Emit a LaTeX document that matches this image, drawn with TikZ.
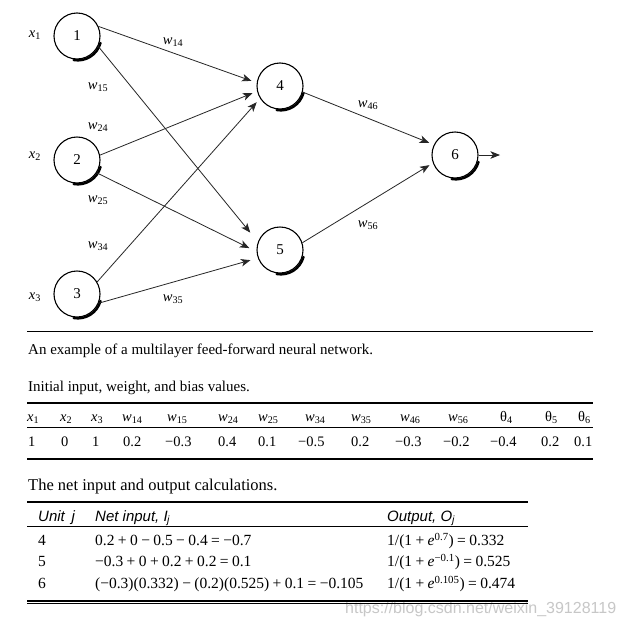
\documentclass[tikz,border=0pt]{standalone}
\usepackage{fontspec}
\setmainfont{Liberation Serif}
\newfontfamily\hsans{Liberation Sans}
\usetikzlibrary{arrows.meta,calc}
\newcommand{\fsz}[1]{\fontsize{#1}{#1}\selectfont}
\newcommand{\vw}[1]{\textit{w}\textsubscript{#1}}
\newcommand{\vx}[1]{\textit{x}\textsubscript{#1}}
\newcommand{\vth}[1]{θ\textsubscript{#1}}
\newcommand{\bop}[1]{\hspace{0.22em}#1\hspace{0.22em}}
\newcommand{\ee}[1]{\textit{e}\textsuperscript{#1}}
\begin{document}
\begin{tikzpicture}[x=1pt,y=-1pt,
  neuron/.style={circle,draw,line width=1.1pt,minimum size=46pt,inner sep=0pt,font=\fsz{15}},
  conn/.style={line width=0.8pt,draw=black!85,-{Stealth[length=9.5pt,width=7.5pt,inset=2.5pt]}},
  shadowarc/.style={line width=2.4pt,line cap=round},
  lbl/.style={font=\fsz{14.5},inner sep=0pt},
  txt/.style={anchor=base west,inner sep=0pt},
  captext/.style={txt,font=\fsz{15}},
  tval/.style={txt,font=\fsz{14.5}},
  trow/.style={txt,font=\fsz{15.5}},
  thead/.style={txt,font=\fsz{15}\hsans\itshape},
  thickrule/.style={line width=2pt},
  thinrule/.style={line width=0.9pt}]
\useasboundingbox (0,0) rectangle (626,624);
\fill[white] (0,0) rectangle (626,624);

% ---- network ----
\node[neuron] (n1) at (77,36) {1};
\node[neuron] (n2) at (77,160) {2};
\node[neuron] (n3) at (77,294) {3};
\node[neuron] (n4) at (280,86) {4};
\node[neuron] (n5) at (280,250) {5};
\node[neuron] (n6) at (455,155) {6};
\foreach \n in {n1,n2,n3,n4,n5,n6}
  \draw[shadowarc] ([shift={(0.8pt,-0.8pt)}]\n.-15) arc[start angle=-15,end angle=-100,radius=23.6pt];

\draw[conn,shorten >=5.5pt] (n1.24) -- (n4.172);
\draw[conn,shorten >=12pt] (n1.-26) -- (n5.160);
\draw[conn,shorten >=5pt] (n2.12) -- (n4.193);
\draw[conn,shorten >=8pt] (n2.-33) -- (n5.184);
\draw[conn,shorten >=5pt] (n3.31) -- (n4.212);
\draw[conn,shorten >=7.7pt] (n3.-23) -- (n5.200);
\draw[conn,shorten >=5pt] (n4.-15) -- (n6.154);
\draw[conn,shorten >=4pt] (n5.18) -- (n6.200);
\coordinate (out) at (500,155);
\draw[conn] (n6.east) -- (out);

\node[lbl] (lx1) at (35,35) {\vx{1}};
\node[lbl] (lx2) at (35,156) {\vx{2}};
\node[lbl] (lx3) at (35,297) {\vx{3}};
\node[lbl] (l14) at (173,42) {\vw{14}};
\node[lbl] (l15) at (98,87) {\vw{15}};
\node[lbl] (l24) at (98,127) {\vw{24}};
\node[lbl] (l25) at (98,200) {\vw{25}};
\node[lbl] (l34) at (98,246) {\vw{34}};
\node[lbl] (l35) at (173,299) {\vw{35}};
\node[lbl] (l46) at (368,105) {\vw{46}};
\node[lbl] (l56) at (368,225) {\vw{56}};

% ---- captions ----
\draw[line width=1pt] (27,331) -- (593,331);
\node[captext] (c1) at (28,354) {An example of a multilayer feed-forward neural network.};
\node[captext] (c2) at (28,391) {Initial input, weight, and bias values.};

% ---- table 1 ----
\draw[thickrule] (27,403.3) -- (593,403.3);
\foreach \x/\t in {27/\vx{1},60/\vx{2},91/\vx{3},122/\vw{14},167/\vw{15},218/\vw{24},258/\vw{25},305/\vw{34},351/\vw{35},400/\vw{46},448/\vw{56},500/\vth{4},545/\vth{5},578/\vth{6}}
  \node[tval] at (\x,421.5) {\t};
\draw[thinrule] (27,427.7) -- (593,427.7);
\foreach \x/\t in {28/1,61/0,92/1,123/0.2,165/−0.3,218/0.4,258/0.1,298/−0.5,351/0.2,395/−0.3,443/−0.2,490/−0.4,541/0.2,574/0.1}
  \node[tval] at (\x,446) {\t};
\draw[thickrule] (27,459) -- (593,459);

% ---- table 2 ----
\node[captext,font=\fsz{16.5}] (c3) at (28,490) {The net input and output calculations.};
\draw[thickrule] (27,502) -- (528,502);
\node[thead] at (38,521) {Unit \,\textit{j}};
\node[thead] at (95,521) {Net input, \textit{I}\textsubscript{\kern-0.5pt\textit{j}}};
\node[thead] at (387,521) {Output, \textit{O}\textsubscript{\textit{j}}};
\draw[thinrule] (27,526.7) -- (528,526.7);
\node[trow] at (38,545.7) {4};
\node[trow] at (95,545.7) {0.2\bop{+}0\bop{−}0.5\bop{−}0.4\bop{=}−0.7};
\node[trow] at (387,545.7) {1/(1\bop{+}\ee{0.7})\bop{=}0.332};
\node[trow] at (38,566.7) {5};
\node[trow] at (95,566.7) {−0.3\bop{+}0\bop{+}0.2\bop{+}0.2\bop{=}0.1};
\node[trow] at (387,566.7) {1/(1\bop{+}\ee{−0.1})\bop{=}0.525};
\node[trow] at (38,588.3) {6};
\node[trow] at (95,588.3) {(−0.3)(0.332)\bop{−}(0.2)(0.525)\bop{+}0.1\bop{=}−0.105};
\node[trow] at (387,588.3) {1/(1\bop{+}\ee{0.105})\bop{=}0.474};
\node[txt,font=\fsz{16}\hsans,text=black!22] (wm) at (345,613) {https://blog.csdn.net/weixin\_39128119};
\draw[line width=1.6pt] (27,600.8) -- (528,600.8);
\draw[line width=0.8pt] (27,603.5) -- (528,603.5);
\end{tikzpicture}
\end{document}
